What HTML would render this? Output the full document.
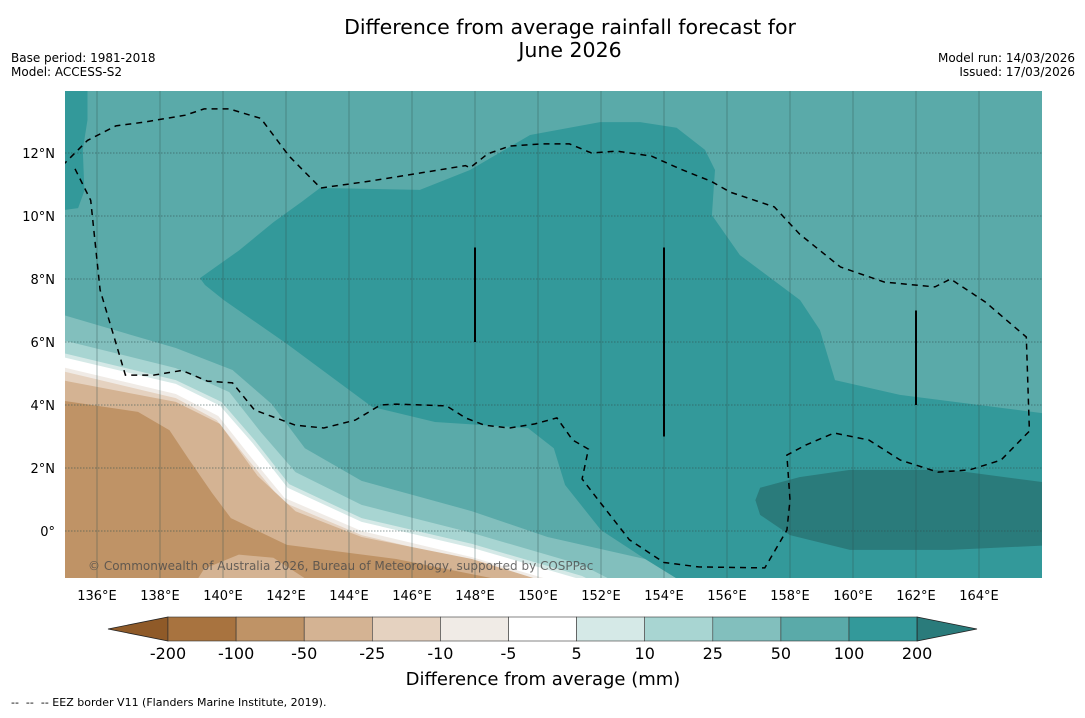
<!DOCTYPE html>
<html><head><meta charset="utf-8"><style>
body{margin:0;background:#fff;font-family:"Liberation Sans","DejaVu Sans",sans-serif;}
svg text{font-family:"DejaVu Sans","Liberation Sans",sans-serif;}
</style></head><body>
<svg id="c" width="1085" height="713" xmlns="http://www.w3.org/2000/svg">
<text x="570" y="34" text-anchor="middle" font-size="20.5">Difference from average rainfall forecast for</text>
<text x="570" y="57" text-anchor="middle" font-size="20.5">June 2026</text>
<text x="11" y="62" font-size="12">Base period: 1981-2018</text>
<text x="11" y="76" font-size="12">Model: ACCESS-S2</text>
<text x="1075" y="62" font-size="12" text-anchor="end">Model run: 14/03/2026</text>
<text x="1075" y="76" font-size="12" text-anchor="end">Issued: 17/03/2026</text>
<defs><clipPath id="mc"><rect x="65" y="91" width="977" height="487"/></clipPath></defs>
<g id="map" clip-path="url(#mc)"></g>
<g id="axes"></g>
<g id="cbar"></g>
<text x="543" y="685" text-anchor="middle" font-size="18">Difference from average (mm)</text>
<text x="11" y="706" font-size="11" xml:space="preserve">--  --  -- EEZ border V11 (Flanders Marine Institute, 2019).</text>
</svg>
<script>
const levels=["-200","-100","-50","-25","-10","-5","5","10","25","50","100","200"];
const levelColors=["#a8733f","#bf9366","#d4b393","#e5d2c0","#f0ebe6","#ffffff","#d5e9e7","#a8d5d2","#82bfbd","#5aaaa9","#33999a"];
const lonTicks=[136,138,140,142,144,146,148,150,152,154,156,158,160,162,164];
const latTicks=[0,2,4,6,8,10,12];
const region100=[[139.27,8.03],[140.5,8.9],[141.6,9.8],[142.5,10.45],[143.08,10.89],[146.25,10.83],[147.84,11.46],[149.75,12.57],[151.97,12.98],[153.24,12.98],[154.4,12.8],[155.3,12.1],[155.62,11.46],[155.52,10.03],[156.41,8.76],[158.32,7.33],[158.95,6.38],[159.43,4.79],[161.49,4.32],[166.5,3.68],[166.5,-2],[153.87,-2],[153.4,-0.89],[152.0,0.03],[150.86,1.46],[150.5,2.63],[149.68,3.27],[146.73,3.46],[144.73,3.94],[142.03,5.94],[140.03,7.33],[139.43,7.81]];
const region100b=[[134.5,14.5],[135.7,14.5],[135.7,13.05],[135.55,12.1],[135.6,10.8],[135.4,10.25],[134.5,10.13]];
const region200=[[157.05,1.37],[158.3,1.71],[159.9,1.94],[163.08,1.94],[166.5,1.49],[166.5,-0.44],[163.08,-0.6],[159.9,-0.6],[158.0,-0.13],[157.05,0.51],[156.9,0.98]];
const b50=[[134.5,6.98],[138.5,5.81],[140.3,5.11],[141.55,4.03],[142.6,2.63],[144.4,1.59],[147.9,0.63],[150.3,-0.19],[153.4,-0.89],[155.2,-2]];
const b25=[[134.5,6.16],[138.5,5.17],[140.2,4.41],[141.2,3.14],[142.3,1.87],[144.4,0.83],[147.9,-0.06],[151.4,-1.08],[153.2,-2]];
const b10=[[134.5,5.75],[138.5,4.79],[139.95,4.1],[141,2.89],[142.1,1.49],[144.4,0.41],[147.9,-0.41],[151.4,-1.43],[152.5,-2]];
const b5=[[134.5,5.62],[138.5,4.67],[139.9,3.98],[140.95,2.78],[142.05,1.37],[144.4,0.29],[147.9,-0.53],[151.4,-1.55],[152.3,-2]];
const bm5=[[134.5,5.3],[138.5,4.35],[139.85,3.65],[140.8,2.45],[141.95,1.05],[144.4,0.0],[147.9,-0.83],[151.4,-1.85],[151.8,-2]];
const bm10=[[134.5,5.17],[138.5,4.22],[139.8,3.52],[140.75,2.32],[141.9,0.92],[144.4,-0.13],[147.9,-0.96],[151.2,-2]];
const bm25=[[134.5,4.86],[138.5,4.1],[139.9,3.4],[141.1,1.75],[142.3,0.63],[144.4,-0.19],[147.9,-0.89],[151.4,-1.97]];
const bm50=[[134.5,4.2],[137.3,3.78],[138.3,3.2],[138.9,2.3],[139.65,1.21],[140.25,0.41],[142.03,-0.44],[145.5,-0.89],[149,-1.59],[150,-2]];
const patch25=[[138.9,-2],[139.4,-1.2],[140.5,-0.75],[141.6,-0.85],[142.6,-1.5],[143.2,-2]];
const eez=[[135.3,11.5],[135.8,10.5],[136.1,7.65],[136.9,4.95],[137.8,4.95],[138.7,5.1],[139.5,4.76],[140.3,4.7],[141.0,3.84],[142.3,3.36],[143.2,3.27],[144.2,3.52],[145.0,4.0],[145.5,4.03],[147.1,3.97],[147.7,3.59],[148.3,3.36],[149.1,3.27],[149.9,3.4],[150.6,3.59],[151.1,2.89],[151.6,2.6],[151.4,1.65],[151.9,1.0],[152.9,-0.28],[154.0,-1.0],[155.1,-1.14],[157.2,-1.17],[157.9,0.03],[158.0,0.98],[157.9,2.41],[158.5,2.73],[159.4,3.11],[160.5,2.89],[161.5,2.25],[162.7,1.87],[163.7,1.94],[164.7,2.25],[165.6,3.17],[165.5,6.16],[164.2,7.27],[163.1,8.0],[162.6,7.75],[161.0,7.9],[159.6,8.38],[158.3,9.43],[157.5,10.29],[156.1,10.76],[155.5,11.1],[154.5,11.5],[153.6,11.9],[152.5,12.06],[151.7,12.0],[151.0,12.29],[150.1,12.29],[149.1,12.22],[148.4,11.97],[147.84,11.53],[147.7,11.6],[146.3,11.37],[144.6,11.1],[143.1,10.89],[142.1,11.9],[141.2,13.1],[140.2,13.4],[139.4,13.4],[138.8,13.2],[137.5,12.98],[136.6,12.86],[135.7,12.4],[134.9,11.6]];
const blackLines=[[148,9,6],[154,9,3],[162,7,4]];
const NS="http://www.w3.org/2000/svg";
const X=lon=>65.5+(lon-135)*31.5, Y=lat=>531-lat*31.5;
const map=document.getElementById('map'),axes=document.getElementById('axes'),cb=document.getElementById('cbar');
function mk(tag,at,parent){const e=document.createElementNS(NS,tag);for(const k in at)e.setAttribute(k,at[k]);parent.appendChild(e);return e;}
function pts(a){return a.map(p=>X(p[0]).toFixed(1)+','+Y(p[1]).toFixed(1)).join(' ');}
function below(b){return pts(b)+' '+X(b[b.length-1][0])+','+Y(-3)+' '+X(134)+','+Y(-3);}
let r=mk('rect',{x:65,y:91,width:977,height:487,fill:levelColors[9]},map);


function poly(p,c,name){const e=mk('polygon',{points:p,fill:c,'stroke-linejoin':'round'},map);

}
poly(pts(region100),levelColors[10],'band-100-200');
poly(pts(region100b),levelColors[10],'band-100-200-west');
poly(pts(region200),"#2a7b7b",'band-over-200');
poly(below(b50),levelColors[8],'band-25-50');
poly(below(b25),levelColors[7],'band-10-25');
poly(below(b10),levelColors[6],'band-5-10');
poly(below(b5),levelColors[5],'band-neutral');
poly(below(bm5),levelColors[4],'band-minus-5-10');
poly(below(bm10),levelColors[3],'band-minus-10-25');
poly(below(bm25),levelColors[2],'band-minus-25-50');
poly(below(bm50),levelColors[1],'band-minus-50-100');
poly(pts(patch25),levelColors[2],'band-minus-25-50-patch');
lonTicks.forEach(l=>{const e=mk('line',{x1:X(l),x2:X(l),y1:91,y2:578,stroke:'#2d4d4d','stroke-opacity':0.4,'stroke-width':1},map);


const t=mk('text',{x:X(l),y:600,'text-anchor':'middle','font-size':13},axes);t.textContent=l+'°E';

});
latTicks.forEach(l=>{const e=mk('line',{x1:65,x2:1042,y1:Y(l),y2:Y(l),stroke:'#2d4d4d','stroke-opacity':0.55,'stroke-width':1,'stroke-dasharray':'1.5,1.5'},map);


const t=mk('text',{x:55,y:Y(l)+5,'text-anchor':'end','font-size':13},axes);t.textContent=l===0?'0°':l+'°N';

});
let ez=mk('polyline',{points:pts(eez),fill:'none',stroke:'#000','stroke-width':1.5,'stroke-dasharray':'6,5'},map);


blackLines.forEach(b=>{const e=mk('line',{x1:X(b[0]),x2:X(b[0]),y1:Y(b[1]),y2:Y(b[2]),stroke:'#000','stroke-width':2},map);

});
let cp=mk('text',{x:88,y:570,'font-size':12,fill:'#4a4a4a','fill-opacity':0.8},map);cp.textContent='© Commonwealth of Australia 2026, Bureau of Meteorology, supported by COSPPac';


const cx0=168,cw=68.1,cy=617,ch=24;
let la=mk('polygon',{points:`108,629 ${cx0},${cy} ${cx0},${cy+ch}`,fill:'#8f5a28',stroke:'#222','stroke-width':0.8},cb);


levelColors.forEach((c,i)=>{const e=mk('rect',{x:cx0+i*cw,y:cy,width:cw,height:ch,fill:c,stroke:'#333','stroke-width':0.6},cb);

});
let ra=mk('polygon',{points:`${cx0+11*cw},${cy} 977,629 ${cx0+11*cw},${cy+ch}`,fill:'#2a7b7b',stroke:'#222','stroke-width':0.8},cb);


levels.forEach((l,i)=>{const t=mk('text',{x:cx0+i*cw,y:659,'text-anchor':'middle','font-size':16},cb);t.textContent=l;

});
</script>
</body></html>
